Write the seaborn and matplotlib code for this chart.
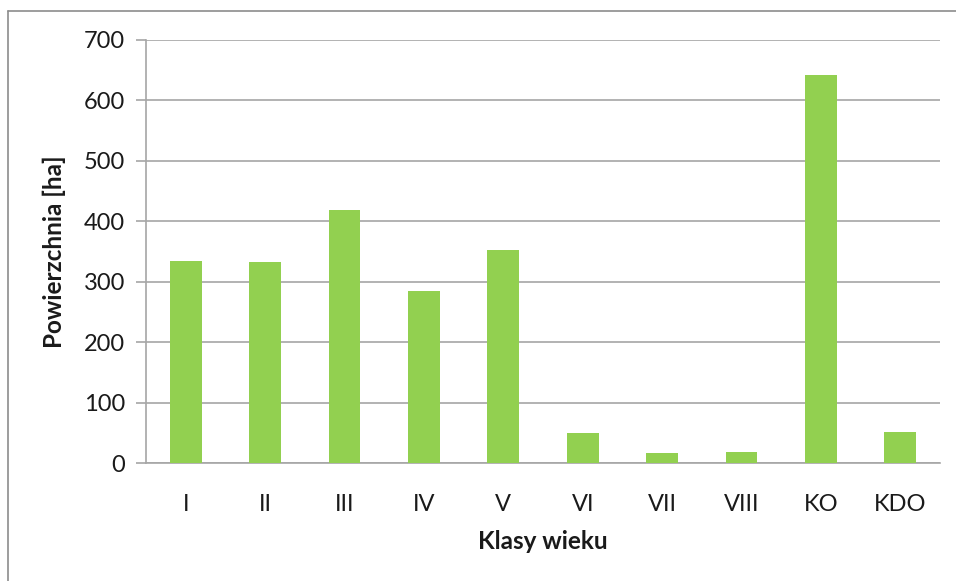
import matplotlib
matplotlib.use("Agg")
import matplotlib.pyplot as plt
import seaborn as sns
import pandas as pd
from matplotlib.lines import Line2D

categories = ["I", "II", "III", "IV", "V", "VI", "VII", "VIII", "KO", "KDO"]
values = [334, 332, 419, 285, 353, 50, 16, 19, 642, 52]
y_ticks = [0, 100, 200, 300, 400, 500, 600, 700]

sns.set_theme(style="white")
plt.rcParams["font.family"] = ["Lato", "DejaVu Sans"]

df = pd.DataFrame({"cat": categories, "val": values})

fig = plt.figure(figsize=(9.56, 5.81), dpi=100)
ax = fig.add_axes([146 / 956, 1 - 463 / 581, (940 - 146) / 956, (463 - 40) / 581])

sns.barplot(data=df, x="cat", y="val", color="#92D050", saturation=1,
            width=0.4, ax=ax, zorder=3, linewidth=0)

ax.set_ylim(0, 700)
ax.set_yticks(y_ticks)
ax.set_xlim(-0.5, 9.5)
ax.yaxis.grid(True, color="#A6A6A6", linewidth=1.2, zorder=0)
ax.set_axisbelow(True)

for s in ["top", "right"]:
    ax.spines[s].set_visible(False)
ax.spines["left"].set_color("#A6A6A6")
ax.spines["bottom"].set_color("#A6A6A6")
ax.spines["left"].set_linewidth(1.2)
ax.spines["bottom"].set_linewidth(1.2)

ax.tick_params(axis="y", which="both", left=True, length=7, width=1.2,
               color="#A6A6A6", labelsize=17, labelcolor="#1a1a1a", pad=8)
ax.tick_params(axis="x", bottom=False, labelsize=17, labelcolor="#1a1a1a", pad=16)

ax.set_xlabel("Klasy wieku", fontsize=17.5, fontweight="bold", color="#1a1a1a", labelpad=11)
ax.set_ylabel("Powierzchnia [ha]", fontsize=17.5, fontweight="bold", color="#1a1a1a", labelpad=13)

# outer chart frame (partially visible: top and left)
fig.add_artist(Line2D([7.5 / 956, 1.0], [1 - 11 / 581, 1 - 11 / 581],
                      transform=fig.transFigure, color="#8C8C8C", linewidth=1.2))
fig.add_artist(Line2D([7.5 / 956, 7.5 / 956], [0.0, 1 - 11 / 581],
                      transform=fig.transFigure, color="#8C8C8C", linewidth=1.2))

fig.savefig("out.png", dpi=100, facecolor="white")
